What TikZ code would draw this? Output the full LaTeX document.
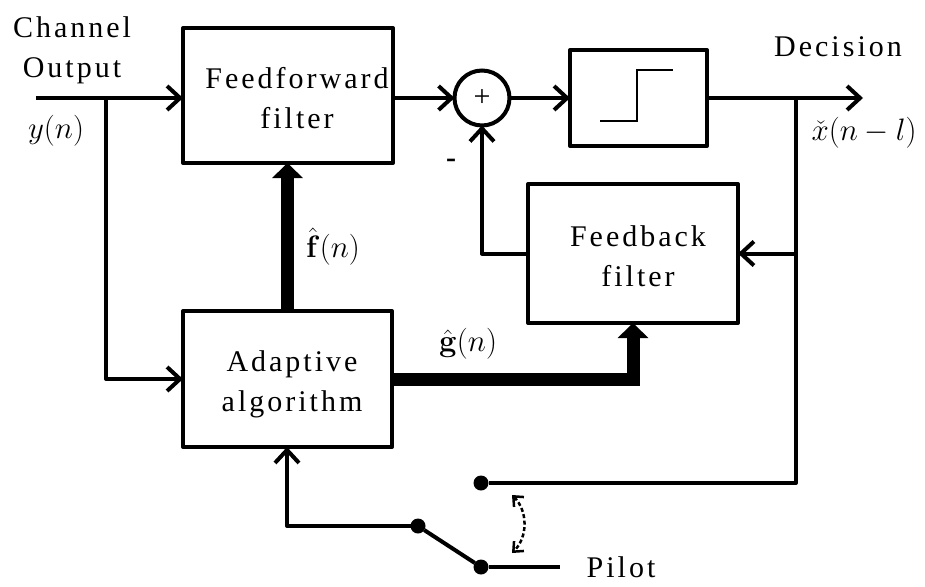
\RequirePackage{fix-cm}
\documentclass[tikz,border=0pt]{standalone}
\usepackage[no-math]{fontspec}
\setmainfont{Liberation Serif}[LetterSpace=10]
\usetikzlibrary{arrows.meta}
\newcommand{\lblfont}{\fontsize{30}{40}\selectfont}
\newcommand{\mlblfont}{\fontsize{31}{36}\selectfont}
\begin{document}
\begin{tikzpicture}[x=1pt,y=-1pt,
  every node/.style={inner sep=0pt, outer sep=0pt},
  blk/.style={draw, rectangle, line width=4pt, line join=round},
  wire/.style={line width=4pt, line join=round},
  arr/.style={wire, -{Straight Barb[length=13pt,width=24pt]}},
  fat/.style={line width=13pt, line join=miter, -{Triangle[length=15pt,width=30pt]}},
  lbl/.style={font=\lblfont, align=center},
  mth/.style={font=\mlblfont},
  pin/.style={circle, fill, minimum size=15pt},
  swing/.style={line width=2.5pt, dash pattern=on 4pt off 2.5pt,
    {Straight Barb[length=8pt,width=14pt,line width=2.5pt]}-{Straight Barb[length=8pt,width=14pt,line width=2.5pt]}}
]
\useasboundingbox (0,0) rectangle (925,586);

% blocks
\node[blk, minimum width=210pt, minimum height=135pt] (ff) at (288,95.5) {};
\node[draw, circle, line width=4pt, minimum size=55pt, font=\lblfont] (sum) at (482,98) {+};
\node[blk, minimum width=137pt, minimum height=96pt] (q) at (638.5,98) {};
\node[blk, minimum width=210pt, minimum height=139pt] (fb) at (633,253.5) {};
\node[blk, minimum width=209pt, minimum height=136pt] (ad) at (287.5,379) {};

% block captions
\node[lbl] (fft) at (297,98) {Feedforward\\filter};
\node[lbl] (fbt) at (638,256) {Feedback\\filter};
\node[lbl] (adt) at (292,384) {Adaptive\\algorithm};

% hard decision step inside the slicer
\draw[line width=2.5pt] (600,121) -- (637,121) -- (637,70) -- (673,70);

% terminals and junctions
\coordinate (in) at (36,98);
\coordinate (br) at (106,98);
\coordinate (dec) at (863,98);
\coordinate (tap) at (796,98);
\coordinate (sw) at (287,526);
\node[pin] (s1) at (418,526) {};
\node[pin] (s2) at (481,567) {};
\node[pin] (s3) at (481,483) {};
\coordinate (pl) at (560,567);
\coordinate (sa) at (512,495);
\coordinate (sb) at (512,553);

% text labels
\node[lbl] (chan) at (72,50) {Channel\\Output};
\node[mth] (yn) at (56,131) {$y(n)$};
\node[lbl] (decl) at (838,47) {Decision};
\node[mth] (xl) at (864,133) {$\check{x}(n-l)$};
\node[mth] (fl) at (333,247) {$\hat{\mathbf{f}}(n)$};
\node[mth] (gl) at (468,344) {$\hat{\mathbf{g}}(n)$};
\node[font=\lblfont\bfseries] (minus) at (451,163) {-};
\node[lbl] (pilot) at (621,567) {Pilot};

% forward path
\draw[arr] (in) -- (in -| ff.west);
\draw[arr] (ff.east |- sum) -- (sum.west);
\draw[arr] (sum.east) -- (q.west |- sum);
\draw[arr] (q.east |- sum) -- (dec);

% input to adaptive algorithm
\draw[arr] (br) |- (ad.west);

% decision feedback
\draw[arr] (tap |- fb.east) -- (fb.east);
\draw[arr] (fb.west) -| (sum.south);
\draw[wire] (tap) |- (s3);

% coefficient updates
\draw[fat] (ad.north) -- (ad.north |- ff.south);
\draw[fat] (ad.east) -| (fb.south);

% training / decision-directed switch
\draw[arr] (s1) -- (sw) -- (sw |- ad.south);
\draw[wire] (s1) -- (s2);
\draw[wire] (s2) -- (pl);
\draw[swing] (sa) to[bend left=45] (sb);
\end{tikzpicture}
\end{document}
